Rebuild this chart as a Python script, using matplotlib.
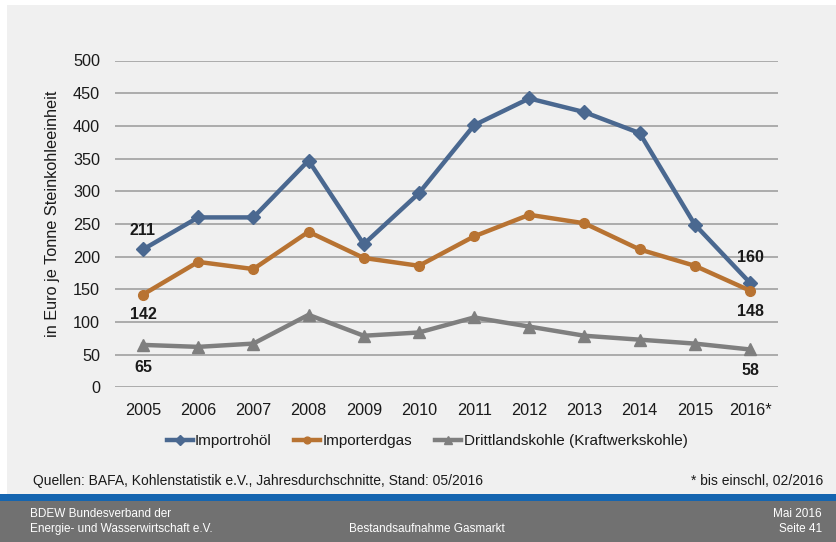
import matplotlib
matplotlib.use("Agg")
import matplotlib.pyplot as plt
from matplotlib.patches import Rectangle

years = ["2005", "2006", "2007", "2008", "2009", "2010", "2011", "2012", "2013", "2014", "2015", "2016*"]
importrohoel = [211, 260, 260, 347, 219, 297, 401, 442, 421, 389, 249, 160]
importerdgas = [142, 192, 181, 238, 198, 186, 231, 264, 251, 211, 186, 148]
kohle = [65, 62, 67, 111, 79, 84, 107, 93, 79, 73, 67, 58]
series_names = ["Importrohöl", "Importerdgas", "Drittlandskohle (Kraftwerkskohle)"]
yticks = [0, 50, 100, 150, 200, 250, 300, 350, 400, 450, 500]

plt.rcParams['font.family'] = ['Liberation Sans', 'DejaVu Sans']

W, H = 837, 542
fig = plt.figure(figsize=(W / 100, H / 100), dpi=100)
fig.patch.set_facecolor('white')

def fx(px):
    return px / W

def fy(py):
    return 1 - py / H

# background panels
for (x0, y0, x1, y1, c) in [(7, 5, W, 494, '#f0f0f0'), (0, 494, W, 501, '#1565b0'), (0, 501, W, H, '#717171')]:
    r = Rectangle((fx(x0), fy(y1)), fx(x1) - fx(x0), fy(y0) - fy(y1), transform=fig.transFigure,
                  facecolor=c, edgecolor='none', zorder=-10)
    fig.add_artist(r)

left, right = 115.4, 777.6
top, bottom = 60.5, 387.4
ax = fig.add_axes([fx(left), fy(bottom), fx(right) - fx(left), fy(top) - fy(bottom)])
ax.set_facecolor('none')
ax.set_zorder(5)

x = list(range(len(years)))
blue = '#4a6890'
orange = '#b87332'
gray = '#7f7f7f'
l1, = ax.plot(x, importrohoel, color=blue, lw=3.2, marker='D', ms=7, label=series_names[0], zorder=3)
l2, = ax.plot(x, importerdgas, color=orange, lw=3.2, marker='o', ms=7, label=series_names[1], zorder=3)
l3, = ax.plot(x, kohle, color=gray, lw=3.2, marker='^', ms=8, label=series_names[2], zorder=3)

ax.set_xlim(-0.5, len(years) - 0.5)
ax.set_ylim(0, 500)
ax.set_yticks(yticks)
ax.set_xticks(x)
ax.set_xticklabels(years)
ax.tick_params(axis='both', length=0, labelsize=11.7, colors='#1a1a1a')
ax.tick_params(axis='y', pad=11)
ax.tick_params(axis='x', pad=11)
ax.yaxis.grid(True, color='#a6a6a6', lw=1.3, zorder=0)
ax.set_axisbelow(True)
for s in ax.spines.values():
    s.set_visible(False)

fig.text(fx(53), fy(214), "in Euro je Tonne Steinkohleeinheit", rotation=90, ha='center', va='center',
         fontsize=11.7, color='#1a1a1a')

# data labels
lab_kw = dict(ha='center', va='center', fontsize=11.5, fontweight='bold', color='#1a1a1a')
ax.annotate(str(importrohoel[0]), (0, importrohoel[0]), xytext=(0, 14), textcoords='offset points', **lab_kw)
ax.annotate(str(importerdgas[0]), (0, importerdgas[0]), xytext=(0, -14.5), textcoords='offset points', **lab_kw)
ax.annotate(str(kohle[0]), (0, kohle[0]), xytext=(0, -16), textcoords='offset points', **lab_kw)
ax.annotate(str(importrohoel[-1]), (11, importrohoel[-1]), xytext=(0, 18), textcoords='offset points', **lab_kw)
ax.annotate(str(importerdgas[-1]), (11, importerdgas[-1]), xytext=(0, -15), textcoords='offset points', **lab_kw)
ax.annotate(str(kohle[-1]), (11, kohle[-1]), xytext=(0, -15), textcoords='offset points', **lab_kw)

leg = fig.legend(handles=[l1, l2, l3], loc='center', bbox_to_anchor=(fx(427), fy(441)), ncol=3,
                 frameon=False, fontsize=11, handlelength=1.7, handletextpad=0.15, columnspacing=1.5,
                 markerscale=0.7)
for t in leg.get_texts():
    t.set_color('#1a1a1a')

fig.text(fx(33), fy(481), "Quellen: BAFA, Kohlenstatistik e.V., Jahresdurchschnitte, Stand: 05/2016",
         ha='left', va='center', fontsize=10, color='#1a1a1a')
fig.text(fx(823), fy(481), "* bis einschl, 02/2016", ha='right', va='center', fontsize=10, color='#1a1a1a')

foot_kw = dict(fontsize=8.5, color='white', va='center')
fig.text(fx(30), fy(514), "BDEW Bundesverband der", ha='left', **foot_kw)
fig.text(fx(30), fy(529), "Energie- und Wasserwirtschaft e.V.", ha='left', **foot_kw)
fig.text(fx(427), fy(529), "Bestandsaufnahme Gasmarkt", ha='center', **foot_kw)
fig.text(fx(822), fy(514), "Mai 2016", ha='right', **foot_kw)
fig.text(fx(822), fy(529), "Seite 41", ha='right', **foot_kw)

fig.savefig("out.png", dpi=100, facecolor=fig.get_facecolor())
